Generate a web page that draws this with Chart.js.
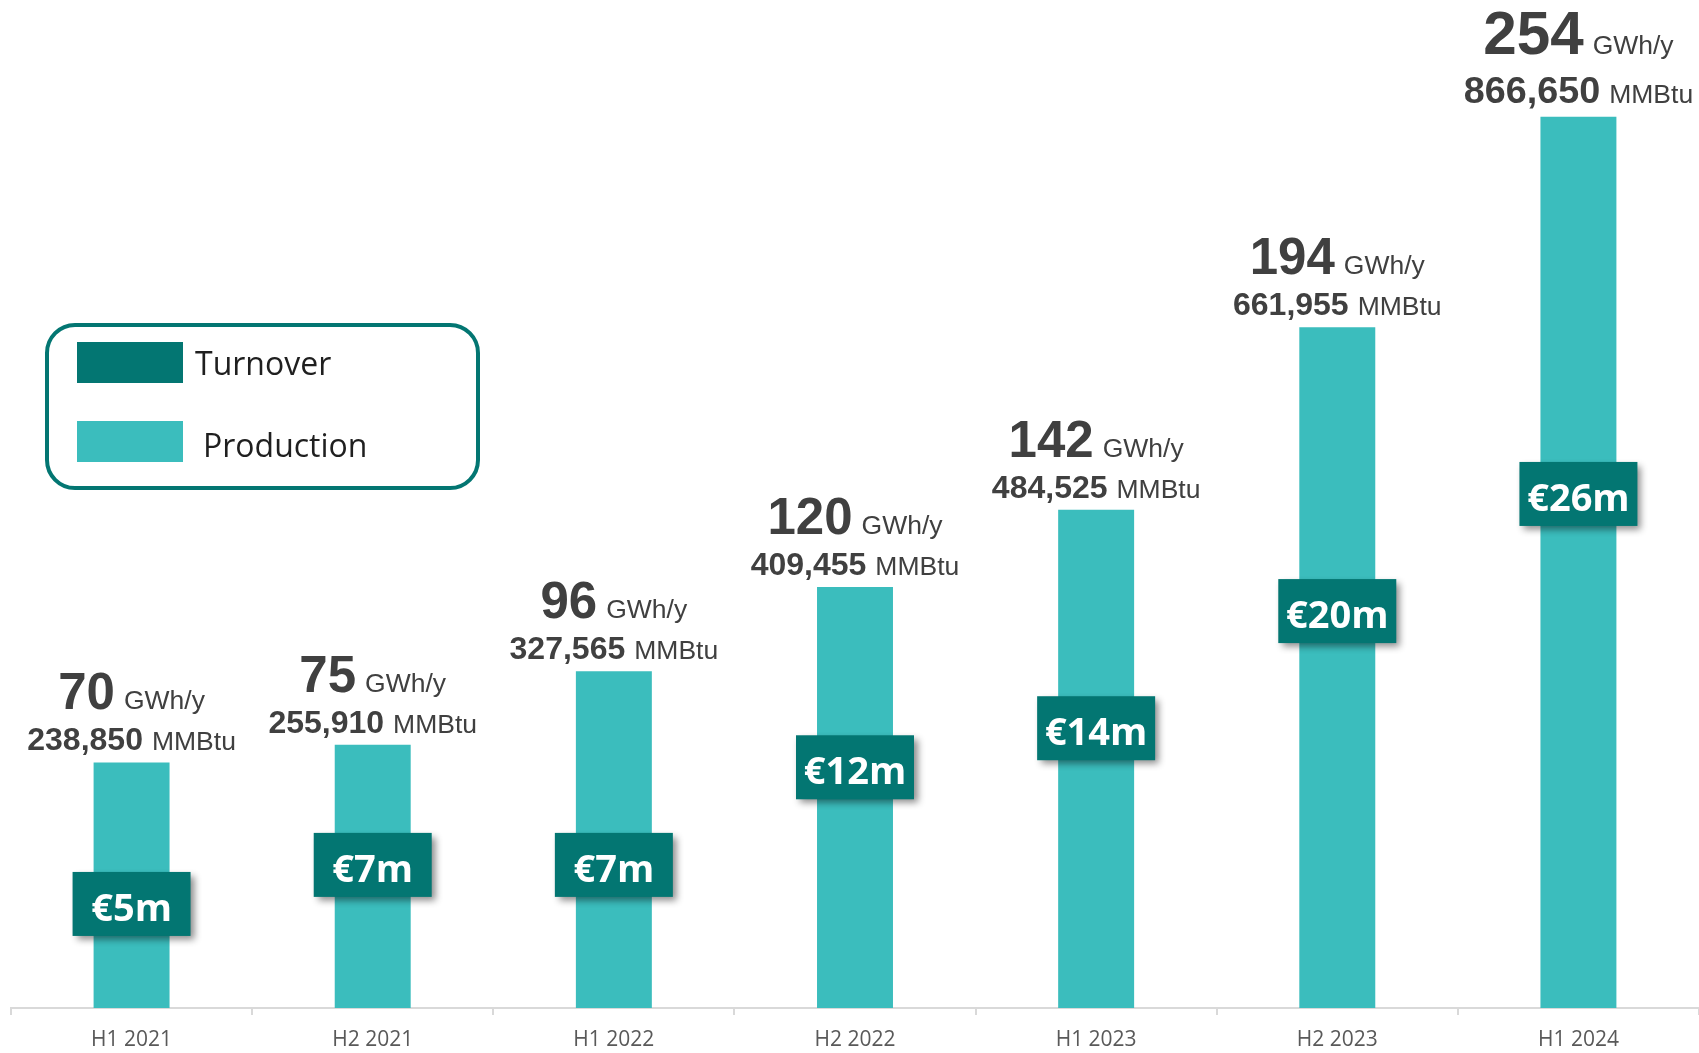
<!DOCTYPE html>
<html>
<head>
<meta charset="utf-8">
<title>Production and turnover</title>
<script src="https://cdn.jsdelivr.net/npm/chart.js@4.4.1/dist/chart.umd.min.js"></script>
<style>
    html, body { margin: 0; padding: 0; background: #fff; }
    #wrap { width: 1699px; height: 1053px; position: relative; }
</style>
</head>
<body>
<div id="wrap"><canvas id="chart"></canvas></div>
<script>
// Half-year periods
const periods = ['H1 2021', 'H2 2021', 'H1 2022', 'H2 2022', 'H1 2023', 'H2 2023', 'H1 2024'];
// Production capacity
const productionGWh = [70, 75, 96, 120, 142, 194, 254];
const productionMMBtu = [238850, 255910, 327565, 409455, 484525, 661955, 866650];
// Turnover in million euro
const turnoverEurM = [5, 7, 7, 12, 14, 20, 26];

const COLORS = {
    turnover: '#037672',
    production: '#3bbdbd',
    label: '#404040',
    axis: '#d9d9d9',
    tick: '#595959',
    legendText: '#1f1f1f'
};

// Value labels above each production bar
const barLabels = {
    id: 'barLabels',
    afterDatasetsDraw(chart) {
        const ctx = chart.ctx;
        const meta = chart.getDatasetMeta(1);
        const last = meta.data.length - 1;
        ctx.save();
        ctx.fillStyle = COLORS.label;
        ctx.textBaseline = 'alphabetic';
        ctx.textAlign = 'left';
        meta.data.forEach((bar, i) => {
            // latest period is emphasised with larger numbers
            const k = i === last ? 1.18 : 1;
            const lines = [
                { num: String(productionGWh[i]), unit: 'GWh/y', size: 51 * k, off: 53 * k },
                { num: productionMMBtu[i].toLocaleString('en-US'), unit: 'MMBtu', size: 32 * k, off: 12 * k }
            ];
            lines.forEach(line => {
                const numFont = `bold ${line.size}px "Liberation Sans", Arial, sans-serif`;
                const unitFont = '26.5px "Liberation Sans", Arial, sans-serif';
                ctx.font = numFont;
                const wNum = ctx.measureText(line.num).width;
                ctx.font = unitFont;
                const wUnit = ctx.measureText(line.unit).width;
                const gap = 9;
                const x0 = bar.x - (wNum + gap + wUnit) / 2;
                const y = bar.y - line.off;
                ctx.font = numFont;
                ctx.fillText(line.num, x0, y);
                ctx.font = unitFont;
                ctx.fillText(line.unit, x0 + wNum + gap, y);
            });
        });
        ctx.restore();
    }
};

// Turnover boxes drawn at the turnover points
const turnoverBoxes = {
    id: 'turnoverBoxes',
    afterDatasetsDraw(chart) {
        const ctx = chart.ctx;
        const meta = chart.getDatasetMeta(0);
        const w = 118, h = 64;
        meta.data.forEach((pt, i) => {
            ctx.save();
            ctx.shadowColor = 'rgba(0, 0, 0, 0.45)';
            ctx.shadowBlur = 7;
            ctx.shadowOffsetX = 4;
            ctx.shadowOffsetY = 4;
            ctx.fillStyle = COLORS.turnover;
            ctx.fillRect(pt.x - w / 2, pt.y - h / 2, w, h);
            ctx.restore();

            ctx.save();
            ctx.fillStyle = '#ffffff';
            ctx.font = 'bold 38px "Open Sans", sans-serif';
            ctx.textAlign = 'center';
            ctx.textBaseline = 'alphabetic';
            ctx.fillText('€' + turnoverEurM[i] + 'm', pt.x, pt.y + 17);
            ctx.restore();
        });
    }
};

// Framed legend in the upper left
const boxLegend = {
    id: 'boxLegend',
    afterDraw(chart, args, opts) {
        const ctx = chart.ctx;
        ctx.save();
        ctx.strokeStyle = COLORS.turnover;
        ctx.lineWidth = 4;
        ctx.beginPath();
        ctx.roundRect(opts.x, opts.y, opts.width, opts.height, 28);
        ctx.stroke();

        ctx.font = '32px "Open Sans", sans-serif';
        ctx.textBaseline = 'alphabetic';
        ctx.textAlign = 'left';
        chart.data.datasets.forEach((ds, i) => {
            const top = opts.y + 17 + i * 79;
            ctx.fillStyle = ds.backgroundColor;
            ctx.fillRect(opts.x + 30, top, 106, 41);
            ctx.fillStyle = COLORS.legendText;
            ctx.fillText(ds.label, opts.x + 148 + i * 8, top + 33 + i * 3);
        });
        ctx.restore();
    }
};

const ctx = document.getElementById('chart').getContext('2d');
const chart = new Chart(ctx, {
    data: {
        labels: periods,
        datasets: [
            {
                type: 'line',
                label: 'Turnover',
                data: turnoverEurM,
                yAxisID: 'y1',
                backgroundColor: COLORS.turnover,
                borderColor: COLORS.turnover,
                showLine: false,
                pointRadius: 0
            },
            {
                type: 'bar',
                label: 'Production',
                data: productionGWh,
                yAxisID: 'y',
                backgroundColor: COLORS.production,
                categoryPercentage: 1,
                barPercentage: 0.315
            }
        ]
    },
    options: {
        responsive: true,
        maintainAspectRatio: false,
        animation: false,
        layout: { padding: { left: 11, right: 0, top: 0, bottom: 0 } },
        scales: {
            x: {
                offset: true,
                grid: {
                    display: true,
                    offset: true,
                    drawOnChartArea: false,
                    drawTicks: true,
                    tickLength: 7,
                    color: COLORS.axis,
                    lineWidth: 2
                },
                border: { display: true, color: COLORS.axis, width: 2 },
                ticks: {
                    color: COLORS.tick,
                    font: { family: 'Open Sans', size: 21 },
                    padding: 12,
                    maxRotation: 0,
                    autoSkip: false
                },
                afterFit: (scale) => { scale.height = 45; }
            },
            y: { display: false, min: 0, max: 287.3 },
            y1: { display: false, min: -0.33, max: 51.3 }
        },
        plugins: {
            legend: { display: false },
            tooltip: { enabled: false },
            boxLegend: { x: 47, y: 325, width: 431, height: 163 }
        }
    },
    plugins: [barLabels, turnoverBoxes, boxLegend]
});
</script>
</body>
</html>
